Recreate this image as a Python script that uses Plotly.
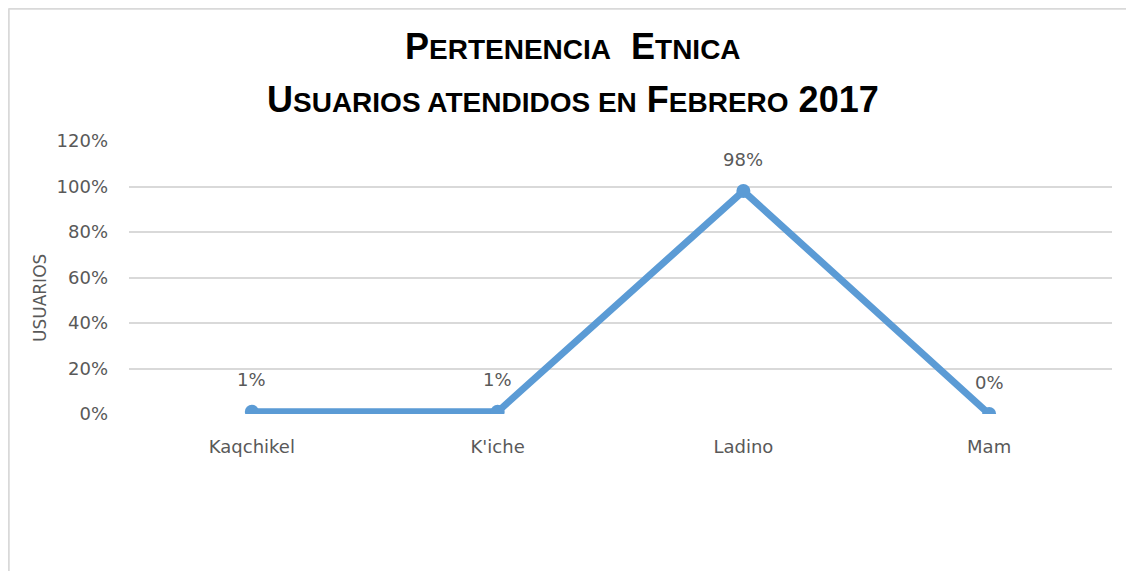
import plotly.graph_objects as go

categories = ["Kaqchikel", "K'iche", "Ladino", "Mam"]
values = [0.01, 0.01, 0.98, 0.00]
labels = ["1%", "1%", "98%", "0%"]
y_ticks = [0, 0.2, 0.4, 0.6, 0.8, 1.0, 1.2]
y_tick_labels = ["0%", "20%", "40%", "60%", "80%", "100%", "120%"]
y_title = "USUARIOS"
title_lines = [
    "<b>P<span style='font-size:28px'>ERTENENCIA</span>  E<span style='font-size:28px'>TNICA</span></b>",
    "<b>U<span style='font-size:28px'>SUARIOS ATENDIDOS EN</span> F<span style='font-size:28px'>EBRERO</span> 2017</b>",
]

OFF = 8  # page body margin
W, H = 1134 - OFF, 571 - OFF
ml, mr, mt, mb = 129 - OFF, 22, 141 - OFF, 157
pw = W - ml - mr
ph = H - mt - mb

def px_to_paper_x(px):
    return (px - OFF - ml) / pw

def px_to_paper_y(py):
    return (H - mb - (py - OFF)) / ph

TICK_FONT = dict(family="DejaVu Sans", size=18, color="#595959")

fig = go.Figure()
fig.add_trace(go.Scatter(
    x=categories, y=values, mode="lines+markers",
    line=dict(color="#5B9BD5", width=7),
    marker=dict(color="#5B9BD5", size=14),
    hoverinfo="skip", showlegend=False,
))

for c, v, t in zip(categories, values, labels):
    fig.add_annotation(x=c, y=v, text=t, showarrow=False, yshift=32,
                       font=TICK_FONT)

for line_text, cy in zip(title_lines, [47, 99]):
    fig.add_annotation(xref="paper", yref="paper", x=px_to_paper_x(573), y=px_to_paper_y(cy),
                       xanchor="center", yanchor="middle", showarrow=False, text=line_text,
                       font=dict(family="Liberation Sans", size=36, color="#000000"))

fig.add_annotation(xref="paper", yref="paper", x=px_to_paper_x(40), y=px_to_paper_y(298),
                   xanchor="center", yanchor="middle", showarrow=False, text=y_title,
                   textangle=-90, font=dict(family="DejaVu Sans", size=17, color="#595959"))

fig.update_layout(
    width=W, height=H,
    margin=dict(l=ml, r=mr, t=mt, b=mb),
    paper_bgcolor="white", plot_bgcolor="white",
    xaxis=dict(
        type="category", showgrid=False, showline=False, ticks="",
        range=[-0.5, 3.5], ticklabelstandoff=20,
        tickfont=TICK_FONT,
        fixedrange=True,
    ),
    yaxis=dict(
        range=[0, 1.2], tickvals=y_ticks, ticktext=y_tick_labels,
        showgrid=True, gridcolor="#D9D9D9", gridwidth=1.5, zeroline=False,
        showline=False, ticks="", ticklabelstandoff=20,
        tickfont=TICK_FONT,
        fixedrange=True,
    ),
    shapes=[
        dict(type="line", xref="paper", yref="paper",
             x0=px_to_paper_x(8.5), x1=px_to_paper_x(8.5), y0=px_to_paper_y(8.5), y1=px_to_paper_y(575),
             line=dict(color="#D9D9D9", width=2.5)),
        dict(type="line", xref="paper", yref="paper",
             x0=px_to_paper_x(8.5), x1=px_to_paper_x(1140), y0=px_to_paper_y(8.5), y1=px_to_paper_y(8.5),
             line=dict(color="#D9D9D9", width=2.5)),
    ],
)

fig.write_html("out.html")
